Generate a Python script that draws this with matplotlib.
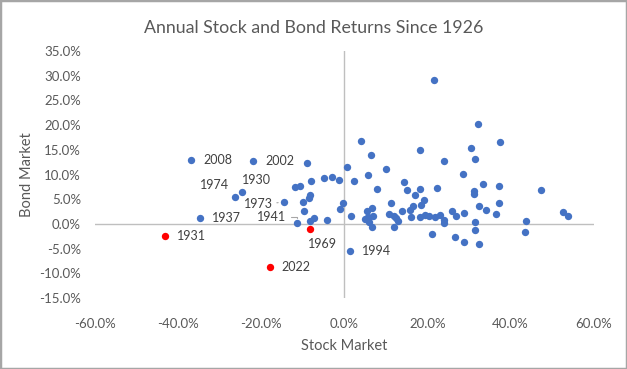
import matplotlib
matplotlib.use("Agg")
import matplotlib.pyplot as plt
from matplotlib.ticker import FuncFormatter

# unlabeled years: stock return %, bond return %
stock = [-9.1, 0.55, -4.8, -3.0, -1.4, 2.2, -11.8, -10.7, -8.1, -10.0,
         -8.3, -8.6, -9.8, -8.2, -7.2, -4.3, -0.4, -1.0, 1.5, 4.1,
         6.3, 5.6, 7.8, 5.5, 6.6, 4.9, 5.7, 6.0, 6.6, 9.9,
         11.1, 10.8, 11.9, 12.5, 12.8, 11.9, 13.8, 14.3, 15.0, 17.0,
         18.3, 22.4, 15.9, 16.4, 16.0, 18.4, 19.1, 18.3, 19.4, 20.4,
         21.7, 22.9, 23.9, 23.9, 21.0, 25.8, 26.9, 28.7, 26.5, 28.7,
         28.5, 31.3, 31.1, 33.3, 32.3, 34.0, 31.5, 31.5, 32.3, 18.3,
         23.9, 30.5, 31.4, 37.4, 32.1, 21.5, 37.1, 37.3, 36.4, 47.3,
         43.6, 43.5, 52.6, 53.9, 7.0, 5.6]
bond = [12.3, 11.5, 9.3, 9.5, 8.9, 8.7, 7.5, 7.7, 8.7, 4.4,
        5.9, 5.2, 2.6, 0.7, 1.2, 0.75, 4.3, 3.0, 1.6, 16.8,
        14.0, 9.9, 7.1, 2.7, 3.2, 1.0, 1.2, 0.5, -0.7, 11.1,
        4.2, 2.0, 1.6, 1.2, 0.6, -0.7, 2.7, 8.5, 6.8, 5.8,
        7.1, 7.3, 2.8, 3.7, 1.4, 3.9, 4.9, 1.5, 1.9, 1.6,
        1.5, 1.9, 0.8, 0.1, -2.0, 2.6, 1.6, 2.2, -2.7, -3.7,
        10.2, 6.6, 6.0, 8.1, 3.7, 2.8, 0.35, -1.2, -4.1, 15.0,
        12.7, 15.4, 13.1, 16.6, 20.3, 29.2, 7.7, 4.2, 2.0, 6.8,
        0.55, -1.7, 2.4, 1.6, 1.7, 1.5]

# labeled years
label_years = ["2008", "2002", "1974", "1930", "1937", "1973", "1941", "1994"]
label_stock = [-36.8, -22.0, -26.4, -24.7, -34.8, -14.6, -11.5, 1.3]
label_bond = [12.9, 12.7, 5.4, 6.4, 1.2, 4.4, 0.1, -5.5]

# years where both stocks and bonds lost money
red_years = ["1931", "2022", "1969"]
red_stock = [-43.2, -18.0, -8.3]
red_bond = [-2.5, -8.8, -1.1]

blue = "#4472C4"
red = "#FF0000"
grey_txt = "#595959"

plt.rcParams['font.family'] = ['Lato', 'DejaVu Sans']

fig = plt.figure(figsize=(6.27, 3.69), dpi=100)
fig.patches.append(plt.Rectangle((0, 0), 1, 1, transform=fig.transFigure,
                                 fill=False, edgecolor="#A6A6A6", linewidth=2.5))
ax = fig.add_axes([0.1515, 0.192, 0.7955, 0.670])

ax.scatter(stock + label_stock, bond + label_bond, s=28, color=blue, zorder=3, linewidths=0)
ax.scatter(red_stock, red_bond, s=28, color=red, zorder=3, linewidths=0)

ax.set_xlim(-60, 60)
ax.set_ylim(-15, 35)
ax.set_xticks(range(-60, 61, 20))
ax.set_yticks(range(-15, 36, 5))
pct = FuncFormatter(lambda v, p: f"{v:.1f}%")
ax.xaxis.set_major_formatter(pct)
ax.yaxis.set_major_formatter(pct)
for s in ax.spines.values():
    s.set_visible(False)
ax.axhline(0, color="#BFBFBF", lw=1, zorder=1)
ax.axvline(0, color="#BFBFBF", lw=1, zorder=1)
ax.tick_params(length=0, labelsize=9.5, labelcolor=grey_txt)
ax.tick_params(axis="x", pad=14)
ax.tick_params(axis="y", pad=10)

ax.set_xlabel("Stock Market", fontsize=10.5, color=grey_txt, labelpad=7)
ax.set_ylabel("Bond Market", fontsize=10.5, color=grey_txt)
ax.yaxis.set_label_coords(-0.123, 0.5)
fig.text(0.5, 0.925, "Annual Stock and Bond Returns Since 1926", ha="center", va="center",
         fontsize=12.8, color=grey_txt)

lab_kw = dict(textcoords="offset pixels", fontsize=9, color="#404040", va="center")
# labels to the right of the point
right_lab = {"2008": 0, "2002": 1, "1937": 4, "1994": 7}
for yr, i in right_lab.items():
    ax.annotate(yr, (label_stock[i], label_bond[i]), xytext=(12, 0), ha="left", **lab_kw)
for i, yr in enumerate(red_years):
    if yr == "1969":
        ax.annotate(yr, (red_stock[i], red_bond[i]), xytext=(-2, -15), ha="left", **lab_kw)
    else:
        ax.annotate(yr, (red_stock[i], red_bond[i]), xytext=(12, 0), ha="left", **lab_kw)
ax.annotate("1974", (label_stock[2], label_bond[2]), xytext=(-6, 12), ha="right", **lab_kw)
ax.annotate("1930", (label_stock[3], label_bond[3]), xytext=(0, 12), ha="left", **lab_kw)
ax.annotate("1973", (label_stock[5], label_bond[5]), xytext=(-11, -2), ha="right",
            arrowprops=dict(arrowstyle="-", color="#A6A6A6", lw=0.8, shrinkA=1, shrinkB=4), **lab_kw)
ax.annotate("1941", (label_stock[6], label_bond[6]), xytext=(-10, 6), ha="right",
            arrowprops=dict(arrowstyle="-", color="#A6A6A6", lw=0.8, shrinkA=1, shrinkB=4,
                            connectionstyle="angle,angleA=0,angleB=90,rad=0"), **lab_kw)

fig.savefig("out.png", dpi=100)
